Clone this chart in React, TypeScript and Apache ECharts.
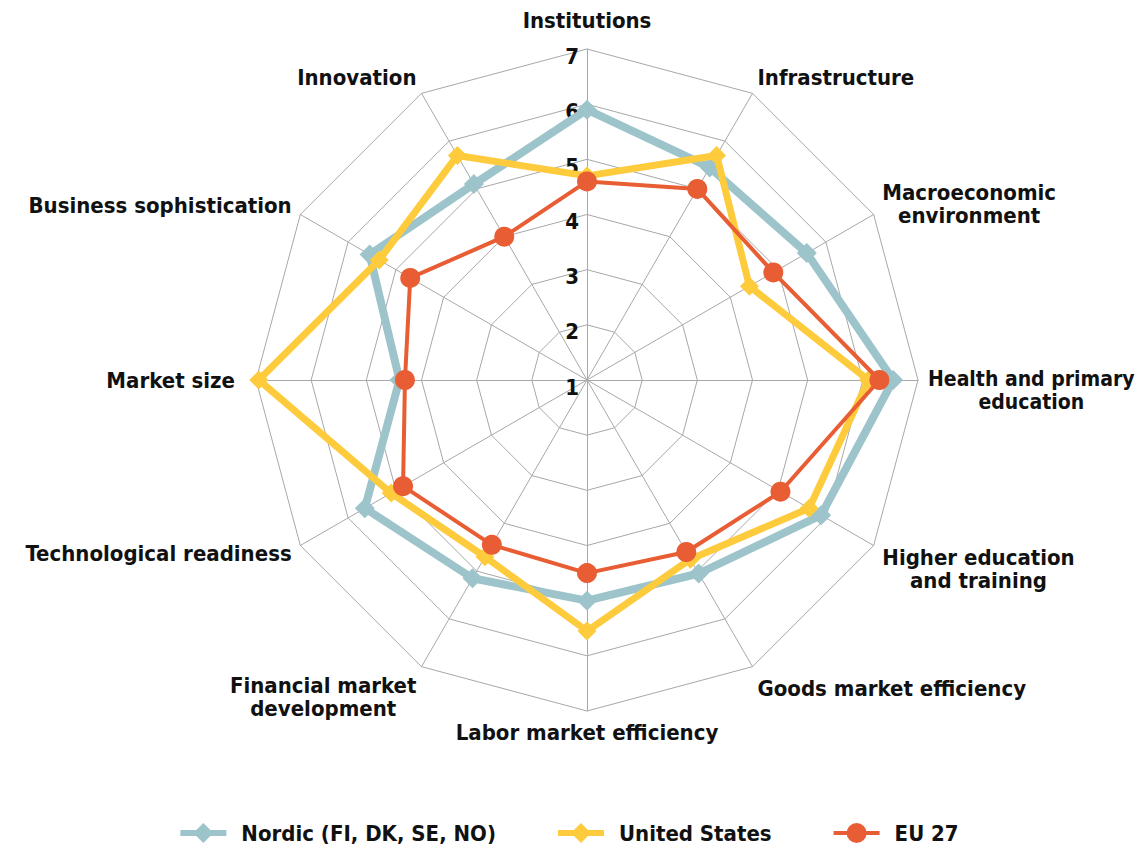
import React, { useEffect, useRef } from "react";
import * as echarts from "echarts";

// Indicators listed in ECharts' (counter-clockwise) drawing order, starting at the top
const categories = [
  "Institutions",
  "Innovation",
  "Business sophistication",
  "Market size",
  "Technological readiness",
  "Financial market\ndevelopment",
  "Labor market efficiency",
  "Goods market efficiency",
  "Higher education\nand training",
  "Health and primary\neducation",
  "Macroeconomic\nenvironment",
  "Infrastructure",
];

const nordic = [5.9, 5.1, 5.55, 4.4, 5.65, 5.15, 5.0, 5.05, 5.9, 6.55, 5.6, 5.45];
const unitedStates = [4.7, 5.7, 5.35, 6.95, 5.1, 4.7, 5.55, 4.75, 5.65, 6.1, 4.4, 5.7];
const eu27 = [4.6, 4.0, 4.7, 4.3, 4.85, 4.45, 4.5, 4.6, 5.05, 6.3, 4.9, 5.0];

const seriesNames = ["Nordic (FI, DK, SE, NO)", "United States", "EU 27"];
const scaleMin = 1;
const scaleMax = 7;

// small nudges (px) for the indicator names, same order as categories
const nameShiftY = [4, -7, -4, 0, 3, 22, 0, 13, 18, 10, -6, -7];
const nameShiftLeft = [0, 0, 0, 11, 0, 0, 0, 0, 0, 0, 0, 0];
const nameSize = [22, 22, 22, 22, 22, 22, 22, 22, 22, 21, 22, 22];

const FONT = "'Liberation Sans Narrow', 'DejaVu Sans Condensed', 'Roboto Condensed', Arial, sans-serif";
const NAME_LH = 23;

const TEAL = "#9CC4CA";
const YELLOW = "#FECB3D";
const RED = "#E85D33";

const diamondIcon = "path://M0,7 L46,7 L46,13 L0,13 Z M23,0 L33,10 L23,20 L13,10 Z";
const circleIcon = "path://M0,8 L46,8 L46,12 L0,12 Z M13,10 A10,10 0 1,1 33,10 A10,10 0 1,1 13,10 Z";

export default function App() {
  const ref = useRef<HTMLDivElement>(null);
  useEffect(() => {
    document.body.style.margin = "0";
    const chart = echarts.init(ref.current!, null, { renderer: "svg" });

    const rich: any = {};
    nameShiftY.forEach((d, i) => {
      rich["s" + i] = {
        align: "center",
        fontFamily: FONT,
        fontSize: nameSize[i],
        fontWeight: "bold",
        color: "#111",
        lineHeight: NAME_LH,
        padding: [d >= 0 ? 2 * d : 0, nameShiftLeft[i], d < 0 ? -2 * d : 0, 0],
      };
    });

    const option: any = {
      animation: false,
      backgroundColor: "#ffffff",
      legend: {
        top: 817,
        left: "center",
        itemWidth: 46,
        itemHeight: 20,
        itemGap: 62,
        textStyle: {
          fontFamily: FONT,
          fontSize: 22,
          fontWeight: "bold",
          color: "#111",
          padding: [0, 0, 0, 10],
        },
        data: [
          { name: seriesNames[0], icon: diamondIcon, itemStyle: { color: TEAL } },
          { name: seriesNames[1], icon: diamondIcon, itemStyle: { color: YELLOW } },
          { name: seriesNames[2], icon: circleIcon, itemStyle: { color: RED } },
        ],
      },
      radar: {
        center: [587, 380],
        radius: 331,
        startAngle: 90,
        shape: "polygon",
        splitNumber: 6,
        nameGap: 10,
        axisName: {
          color: "#111",
          fontFamily: FONT,
          fontSize: 22,
          fontWeight: "bold",
          lineHeight: NAME_LH,
          formatter: (name: string) => {
            const idx = categories.indexOf(name);
            return name
              .split("\n")
              .map((l) => `{s${idx}|${l}}`)
              .join("\n");
          },
          rich,
        },
        indicator: categories.map((name, i) => ({
          name,
          min: scaleMin,
          max: scaleMax,
          axisLabel:
            i === 0
              ? {
                  show: true,
                  color: "#111",
                  fontFamily: FONT,
                  fontSize: 22,
                  fontWeight: "bold",
                  showMinLabel: true,
                  showMaxLabel: true,
                  formatter: (v: number) => `{t|${v}}`,
                  rich: {
                    t: {
                      fontFamily: FONT,
                      fontSize: 22,
                      fontWeight: "bold",
                      color: "#111",
                      lineHeight: 24,
                      padding: [14, 0, 0, 0],
                    },
                  },
                }
              : { show: false },
        })),
        axisLine: { lineStyle: { color: "#A8A8A8", width: 1 } },
        splitLine: { lineStyle: { color: "#A8A8A8", width: 1 } },
        splitArea: { show: false },
        axisTick: { show: false },
      },
      series: [
        {
          type: "radar",
          name: seriesNames[0],
          z: 2,
          symbol: "diamond",
          symbolSize: 20,
          lineStyle: { color: TEAL, width: 8 },
          itemStyle: { color: TEAL },
          data: [{ name: seriesNames[0], value: nordic }],
        },
        {
          type: "radar",
          name: seriesNames[1],
          z: 3,
          symbol: "diamond",
          symbolSize: 19,
          lineStyle: { color: YELLOW, width: 7 },
          itemStyle: { color: YELLOW },
          data: [{ name: seriesNames[1], value: unitedStates }],
        },
        {
          type: "radar",
          name: seriesNames[2],
          z: 4,
          symbol: "circle",
          symbolSize: 20,
          lineStyle: { color: RED, width: 4 },
          itemStyle: { color: RED },
          data: [{ name: seriesNames[2], value: eu27 }],
        },
      ],
    };
    chart.setOption(option);
    return () => chart.dispose();
  }, []);
  return <div ref={ref} style={{ width: 1139, height: 850 }} />;
}
